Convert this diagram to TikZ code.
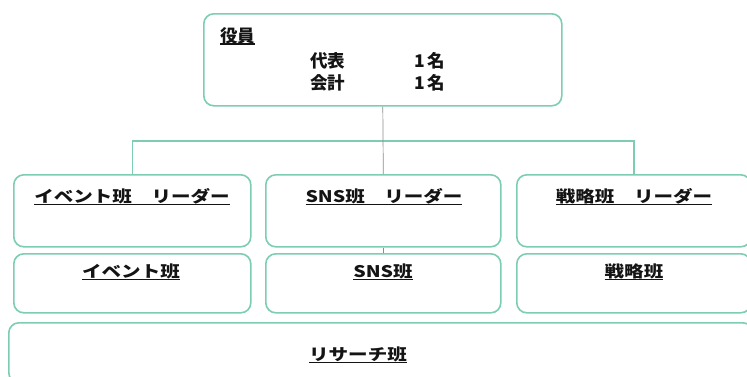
\documentclass[tikz,border=0pt]{standalone}
\usepackage{fontspec}
\newfontfamily\jp{Noto Sans CJK JP}
\usepackage{graphicx}
\definecolor{boxc}{RGB}{125,205,180}
\definecolor{linec}{RGB}{140,140,140}
\definecolor{txtc}{RGB}{20,20,20}
\newcommand{\jul}[1]{\setbox0\hbox{#1}\leavevmode\rlap{\rule[-0.16em]{\wd0}{0.08em}}\box0}
\newcommand{\wide}[1]{\scalebox{1.22}[1]{\jul{#1}}}
\tikzset{
  orgbox/.style={draw=boxc, line width=1.6pt, rounded corners=10pt, fill=white, anchor=north west, inner sep=0pt},
  toptxt/.style={font=\jp\bfseries\fontsize{17.5}{20}\selectfont, text=txtc, inner sep=0pt, anchor=west},
  teamtxt/.style={font=\jp\bfseries\fontsize{16}{18}\selectfont, text=txtc, inner sep=0pt},
  tline/.style={draw=boxc, line width=1.5pt},
  gline/.style={draw=linec, line width=0.7pt}
}
\begin{document}
\begin{tikzpicture}[x=1pt,y=1pt]
\useasboundingbox (0,0) rectangle (747,-376);
\fill[white] (0,0) rectangle (747,-376);
% boxes
\node[orgbox, minimum width=358pt, minimum height=92pt] (top) at (203,-13) {};
\node[orgbox, minimum width=237pt, minimum height=72pt] (L1) at (13,-174) {};
\node[orgbox, minimum width=235pt, minimum height=72pt] (M1) at (265,-174) {};
\node[orgbox, minimum width=234pt, minimum height=72pt] (R1) at (516,-174) {};
\node[orgbox, minimum width=237pt, minimum height=59pt] (L2) at (13,-253) {};
\node[orgbox, minimum width=235pt, minimum height=59pt] (M2) at (265,-253) {};
\node[orgbox, minimum width=234pt, minimum height=59pt] (R2) at (516,-253) {};
\node[orgbox, minimum width=744pt, minimum height=60pt] (RS) at (8,-322) {};
% connectors
\coordinate (hub) at (382.5,-141);
\draw[tline] (L1.north) |- (hub) -| (R1.north);
\draw[gline] (top.south) -- (M1.north);
\draw[gline] (M1.south) -- (M2.north);
% top text
\node[toptxt] (yakuin) at (220,-36) {\jul{役員}};
\node[toptxt] (daihyo) at (310,-61) {代表};
\node[toptxt] (daihyon) at (414,-61) {1\,名};
\node[toptxt] (kaikei) at (310,-83) {会計};
\node[toptxt] (kaikein) at (414,-83) {1\,名};
% team text
\node[teamtxt] (tL1) at (132,-197) {\wide{イベント班　リーダー}};
\node[teamtxt] (tM1) at (384,-197) {\wide{SNS班　リーダー}};
\node[teamtxt] (tR1) at (634,-197) {\wide{戦略班　リーダー}};
\node[teamtxt] (tL2) at (131,-272) {\wide{イベント班}};
\node[teamtxt] (tM2) at (383,-272) {\wide{SNS班}};
\node[teamtxt] (tR2) at (634,-272) {\wide{戦略班}};
\node[teamtxt] (tRS) at (358,-355) {\wide{リサーチ班}};
\end{tikzpicture}
\end{document}
